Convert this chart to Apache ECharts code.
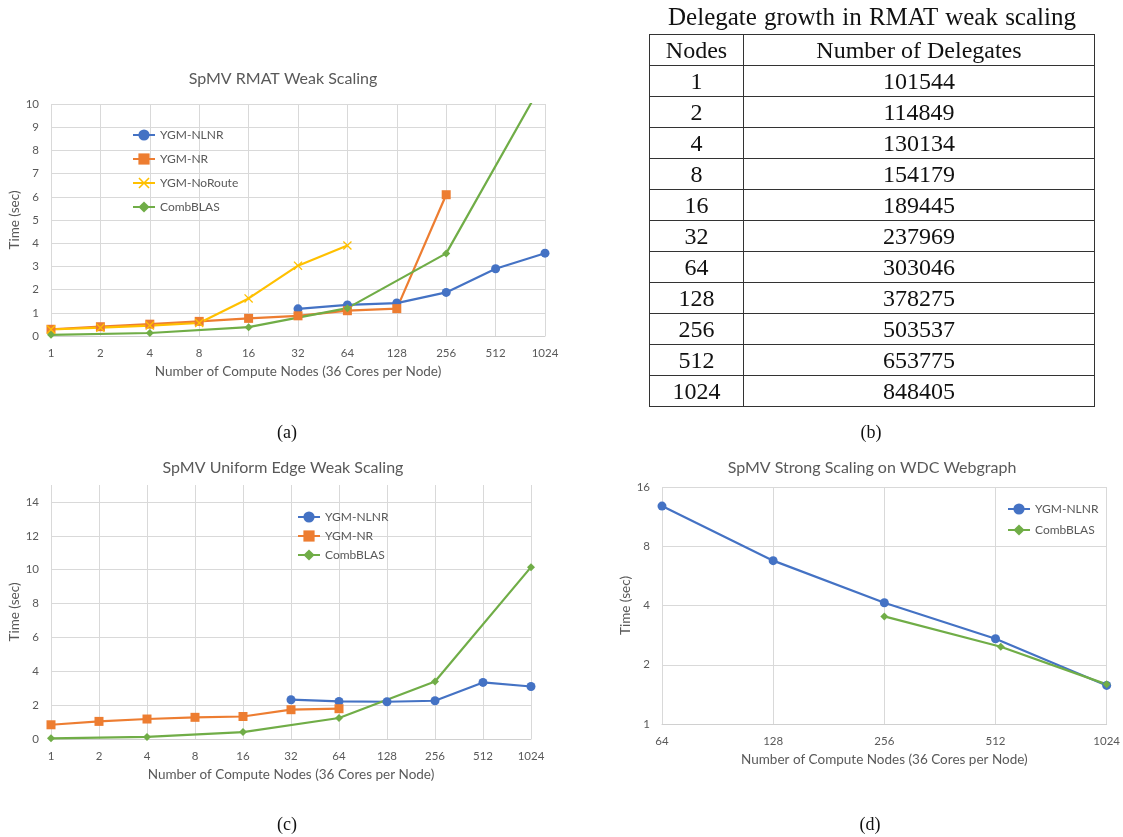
<!DOCTYPE html>
<html>
<head>
<meta charset="utf-8">
<script src="https://cdn.jsdelivr.net/npm/echarts@6/dist/echarts.min.js"></script>
<style>
  html, body { margin: 0; padding: 0; background: #fff; }
  #wrap { position: relative; width: 1123px; height: 837px; overflow: hidden; }
  #chart { position: absolute; left: 0; top: 0; width: 1123px; height: 837px; }
  #tblTitle { position: absolute; left: 630px; width: 484px; top: 2px; text-align: center;
    font-family: 'Liberation Serif', 'DejaVu Serif', serif; font-size: 25px; color: #111; line-height: 30px; word-spacing: 1px; }
  #tbl { position: absolute; left: 649px; top: 34px; width: 446px; border-collapse: collapse;
    font-family: 'Liberation Serif', 'DejaVu Serif', serif; font-size: 24px; color: #111; }
  #tbl td { border: 1px solid #333; height: 30px; padding: 0; text-align: center; line-height: 28px; }
  #tbl td.c1 { width: 93px; }
</style>
</head>
<body>
<div id="wrap">
  <div id="chart"></div>
  <div id="tblTitle"></div>
  <table id="tbl"></table>
</div>
<script>
// ---------- Data ----------
const nodes = ['1', '2', '4', '8', '16', '32', '64', '128', '256', '512', '1024'];

// (a) SpMV RMAT Weak Scaling
const rmatNLNR    = [null, null, null, null, null, 1.17, 1.34, 1.42, 1.88, 2.90, 3.57];
const rmatNR      = [0.29, 0.40, 0.51, 0.63, 0.76, 0.87, 1.09, 1.18, 6.09, null, null];
const rmatNoRoute = [0.28, 0.36, 0.45, 0.56, 1.62, 3.03, 3.90, null, null, null, null];
const rmatComb    = [0.05, null, 0.13, null, 0.38, null, 1.20, null, 3.56, null, 11.1];

// (c) SpMV Uniform Edge Weak Scaling
const uniNLNR = [null, null, null, null, null, 2.32, 2.22, 2.20, 2.26, 3.34, 3.10];
const uniNR   = [0.84, 1.04, 1.18, 1.28, 1.33, 1.73, 1.79, null, null, null, null];
const uniComb = [0.04, null, 0.12, null, 0.41, null, 1.24, null, 3.40, null, 10.15];

// (d) SpMV Strong Scaling on WDC Webgraph
const wdcNodes     = [64, 128, 256, 512, 1024];
const wdcNLNR      = [12.8, 6.76, 4.13, 2.71, 1.57];
const wdcCombNodes = [256, 529, 1024];
const wdcComb      = [3.52, 2.47, 1.59];

// (b) Delegate growth table
const tableTitle = 'Delegate growth in RMAT weak scaling';
const tableHeader = ['Nodes', 'Number of Delegates'];
const tableNodes = [1, 2, 4, 8, 16, 32, 64, 128, 256, 512, 1024];
const delegates = [101544, 114849, 130134, 154179, 189445, 237969, 303046, 378275, 503537, 653775, 848405];

const titles = ['SpMV RMAT Weak Scaling', 'SpMV Uniform Edge Weak Scaling', 'SpMV Strong Scaling on WDC Webgraph'];
const captions = ['(a)', '(b)', '(c)', '(d)'];
const xName = 'Number of Compute Nodes (36 Cores per Node)';
const yName = 'Time (sec)';

// ---------- Table ----------
document.getElementById('tblTitle').textContent = tableTitle;
(function () {
  const tbl = document.getElementById('tbl');
  const rows = [tableHeader].concat(tableNodes.map((n, i) => [String(n), String(delegates[i])]));
  rows.forEach(r => {
    const tr = document.createElement('tr');
    r.forEach((c, j) => {
      const td = document.createElement('td');
      if (j === 0) td.className = 'c1';
      td.textContent = c;
      tr.appendChild(td);
    });
    tbl.appendChild(tr);
  });
})();

// ---------- Chart ----------
const FONT = 'Lato';
const TXT = '#595959';
const GRID = '#D9D9D9';
const C = { nlnr: '#4472C4', nr: '#ED7D31', noroute: '#FFC000', comb: '#70AD47' };
const crossPath = 'path://M0,1 L1,0 L5,4 L9,0 L10,1 L6,5 L10,9 L9,10 L5,6 L1,10 L0,9 L4,5 Z';

const style = {
  'YGM-NLNR':    { color: C.nlnr, symbol: 'circle', symbolSize: 9 },
  'YGM-NR':      { color: C.nr, symbol: 'rect', symbolSize: 9 },
  'YGM-NoRoute': { color: C.noroute, symbol: crossPath, symbolSize: 9 },
  'CombBLAS':    { color: C.comb, symbol: 'diamond', symbolSize: 8 }
};

function ser(name, data, idx) {
  const s = style[name];
  return {
    name: name, type: 'line', data: data,
    xAxisIndex: idx, yAxisIndex: idx,
    connectNulls: true, clip: true,
    symbol: s.symbol, symbolSize: s.symbolSize, showSymbol: true,
    lineStyle: { color: s.color, width: 2.2 },
    itemStyle: { color: s.color, borderWidth: 0 },
    animation: false
  };
}

const axisNameStyle = { color: TXT, fontFamily: FONT, fontSize: 13.5 };

function catX(idx) {
  return {
    type: 'category', gridIndex: idx, data: nodes, boundaryGap: false,
    axisLine: { show: true, lineStyle: { color: '#D0D0D0', width: 1 } },
    axisTick: { show: false },
    axisLabel: { interval: 0, color: TXT, fontFamily: FONT, fontSize: 11.5, margin: 11 },
    splitLine: { show: true, interval: 0, lineStyle: { color: GRID, width: 1 } },
    name: xName, nameLocation: 'middle', nameGap: 29,
    nameTextStyle: axisNameStyle
  };
}

function legend(data, left, top, gap) {
  return {
    data: data, orient: 'vertical', left: left, top: top,
    itemWidth: 22, itemHeight: 14, itemGap: gap,
    textStyle: { color: TXT, fontFamily: FONT, fontSize: 12 },
    selectedMode: false
  };
}

function gtext(text, x, y, size, family, color) {
  return {
    type: 'text', x: x, y: y, silent: true,
    style: { text: text, fill: color, fontSize: size, fontFamily: family, align: 'center', verticalAlign: 'middle' }
  };
}

const chart = echarts.init(document.getElementById('chart'), null, { renderer: 'canvas' });
const yLabel = { color: TXT, fontFamily: FONT, fontSize: 11.5, margin: 12 };

chart.setOption({
  animation: false,
  backgroundColor: '#fff',
  grid: [
    { left: 51, top: 104, width: 494, height: 232 },
    { left: 51, top: 485, width: 480, height: 254 },
    { left: 662, top: 487, width: 445, height: 237 }
  ],
  xAxis: [
    catX(0),
    catX(1),
    {
      type: 'log', logBase: 2, gridIndex: 2, min: 64, max: 1024,
      axisLine: { show: true, lineStyle: { color: '#D0D0D0', width: 1 } },
      axisTick: { show: false },
      axisLabel: { color: TXT, fontFamily: FONT, fontSize: 11.5, margin: 11, formatter: v => String(Math.round(v)) },
      splitLine: { show: true, lineStyle: { color: GRID, width: 1 } },
      name: xName, nameLocation: 'middle', nameGap: 29,
      nameTextStyle: axisNameStyle
    }
  ],
  yAxis: [
    {
      type: 'value', gridIndex: 0, min: 0, max: 10, interval: 1,
      axisLine: { show: false }, axisTick: { show: false },
      axisLabel: yLabel,
      splitLine: { lineStyle: { color: GRID, width: 1 } },
      name: yName, nameLocation: 'middle', nameGap: 27, nameTextStyle: axisNameStyle
    },
    {
      type: 'value', gridIndex: 1, min: 0, max: 15, interval: 2,
      axisLine: { show: false }, axisTick: { show: false },
      axisLabel: Object.assign({}, yLabel, { showMaxLabel: false, formatter: v => (v > 14 ? '' : String(v)) }),
      splitLine: { lineStyle: { color: [GRID, GRID, GRID, GRID, GRID, GRID, GRID, GRID, 'rgba(0,0,0,0)'], width: 1 } },
      name: yName, nameLocation: 'middle', nameGap: 28, nameTextStyle: axisNameStyle
    },
    {
      type: 'log', logBase: 2, gridIndex: 2, min: 1, max: 16,
      axisLine: { show: false }, axisTick: { show: false },
      axisLabel: Object.assign({}, yLabel, { formatter: v => String(Math.round(v)) }),
      splitLine: { lineStyle: { color: GRID, width: 1 } },
      name: yName, nameLocation: 'middle', nameGap: 29, nameTextStyle: axisNameStyle
    }
  ],
  legend: [
    legend(['YGM-NLNR', 'YGM-NR', 'YGM-NoRoute', 'CombBLAS'], 127, 124, 12),
    legend(['YGM-NLNR', 'YGM-NR', 'CombBLAS'], 292, 506, 7),
    legend(['YGM-NLNR', 'CombBLAS'], 1002, 498, 9)
  ],
  graphic: [
    gtext(titles[0], 283, 79, 16, FONT, TXT),
    gtext(titles[1], 283, 468, 16, FONT, TXT),
    gtext(titles[2], 872, 468, 16, FONT, TXT),
    gtext(captions[0], 287, 433, 18, 'Liberation Serif', '#111'),
    gtext(captions[1], 871, 433, 18, 'Liberation Serif', '#111'),
    gtext(captions[2], 287, 825, 18, 'Liberation Serif', '#111'),
    gtext(captions[3], 870, 825, 18, 'Liberation Serif', '#111')
  ],
  series: [
    ser('YGM-NLNR', rmatNLNR, 0),
    ser('YGM-NR', rmatNR, 0),
    ser('YGM-NoRoute', rmatNoRoute, 0),
    ser('CombBLAS', rmatComb, 0),
    ser('YGM-NLNR', uniNLNR, 1),
    ser('YGM-NR', uniNR, 1),
    ser('CombBLAS', uniComb, 1),
    ser('YGM-NLNR', wdcNodes.map((n, i) => [n, wdcNLNR[i]]), 2),
    ser('CombBLAS', wdcCombNodes.map((n, i) => [n, wdcComb[i]]), 2)
  ]
});
</script>
</body>
</html>
